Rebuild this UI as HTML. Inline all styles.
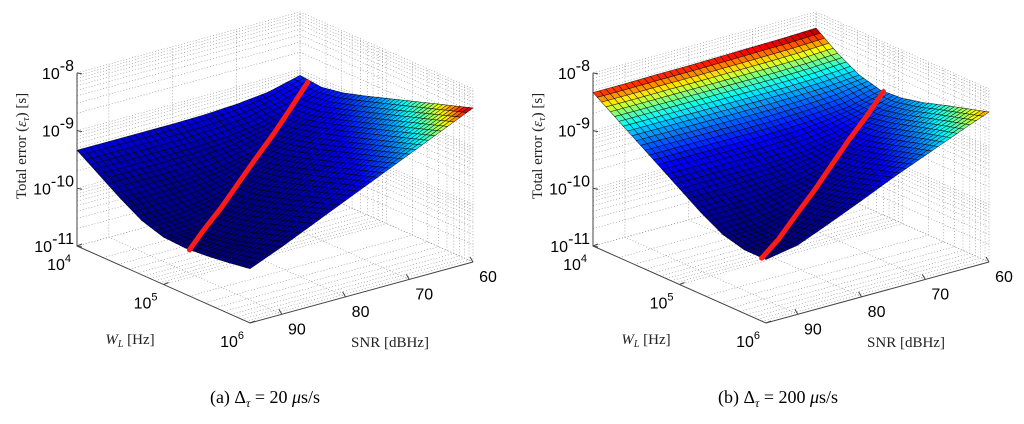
<!DOCTYPE html>
<html><head><meta charset="utf-8"><style>
body{margin:0;background:#fff;}
svg{display:block;}
.tk{font-family:"Liberation Sans",sans-serif;font-size:16px;fill:#000;}
.tt{font-family:"Liberation Serif",serif;font-size:15px;fill:#222;}
.cap{font-family:"Liberation Serif",serif;font-size:18px;fill:#000;}
</style></head><body>
<svg id="fig" width="1024" height="424" viewBox="0 0 1024 424" xmlns="http://www.w3.org/2000/svg">
<rect width="1024" height="424" fill="#fff"/>
<g id="plotA"></g>
<g id="plotB"></g>
<text class="cap" x="265" y="403" text-anchor="middle">(a)  Δ<tspan font-style="italic" font-size="12" dy="4">τ</tspan><tspan dy="-4"> = 20 </tspan><tspan font-style="italic">μ</tspan>s/s</text>
<text class="cap" x="778" y="403" text-anchor="middle">(b)  Δ<tspan font-style="italic" font-size="12" dy="4">τ</tspan><tspan dy="-4"> = 200 </tspan><tspan font-style="italic">μ</tspan>s/s</text>
</svg>
<script>
// ---- data ----
const logW = [4, 4.25, 4.5, 4.75, 5, 5.25, 5.5, 5.75, 6];
const snrVals = [60, 65, 70, 75, 80, 85, 90, 95];
const wTicks = [4, 5, 6];
const snrTicks = [60, 70, 80, 90];
const zTicks = [-11, -10, -9, -8];
// log10 total error, rows = SNR, cols = log10 W
const errA = [
 [-9.10,-9.14,-9.07,-8.955,-8.83,-8.705,-8.58,-8.455,-8.33],
 [-9.24,-9.34,-9.31,-9.20,-9.08,-8.955,-8.83,-8.705,-8.58],
 [-9.30,-9.48,-9.52,-9.44,-9.33,-9.205,-9.08,-8.955,-8.83],
 [-9.33,-9.55,-9.68,-9.67,-9.57,-9.45,-9.33,-9.205,-9.08],
 [-9.34,-9.58,-9.78,-9.86,-9.81,-9.70,-9.58,-9.455,-9.33],
 [-9.34,-9.59,-9.82,-9.99,-10.02,-9.94,-9.83,-9.705,-9.58],
 [-9.34,-9.59,-9.83,-10.05,-10.16,-10.15,-10.07,-9.95,-9.83],
 [-9.34,-9.59,-9.84,-10.06,-10.18,-10.2,-10.17,-10.12,-10.06]
];
const errB = [
 [-8.28,-8.55,-8.76,-8.86,-8.83,-8.74,-8.62,-8.51,-8.40],
 [-8.30,-8.58,-8.81,-8.99,-9.02,-8.94,-8.83,-8.72,-8.62],
 [-8.31,-8.59,-8.83,-9.05,-9.18,-9.17,-9.07,-8.96,-8.85],
 [-8.32,-8.59,-8.84,-9.08,-9.28,-9.36,-9.31,-9.20,-9.08],
 [-8.33,-8.59,-8.84,-9.09,-9.32,-9.49,-9.52,-9.44,-9.33],
 [-8.33,-8.59,-8.84,-9.09,-9.33,-9.55,-9.68,-9.67,-9.57],
 [-8.34,-8.59,-8.84,-9.09,-9.34,-9.58,-9.78,-9.84,-9.80],
 [-8.34,-8.59,-8.84,-9.09,-9.34,-9.59,-9.80,-9.90,-9.90]
];
const optSNR = [60, 65, 70, 75, 80, 85, 90, 95];
const optWA = [4.09, 4.26, 4.43, 4.59, 4.76, 4.93, 5.09, 5.3];
const optZA = [-9.16, -9.35, -9.53, -9.70, -9.86, -10.02, -10.16, -10.2];
const optWB = [4.78, 4.95, 5.11, 5.28, 5.45, 5.61, 5.78, 5.95];
const optZB = [-8.86, -9.03, -9.19, -9.36, -9.53, -9.69, -9.84, -9.91];

const NS = "http://www.w3.org/2000/svg";
function mk(tag, attrs, parent){const e=document.createElementNS(NS,tag);for(const k in attrs)e.setAttribute(k,attrs[k]);parent.appendChild(e);return e;}
function jet(c){c=Math.max(0,Math.min(1,c));const f=v=>Math.round(255*Math.max(0,Math.min(1,v)));
 return `rgb(${f(1.5-Math.abs(4*c-3))},${f(1.5-Math.abs(4*c-2))},${f(1.5-Math.abs(4*c-1))})`;}

function drawPlot(g, ox, Z, optW, optZ){
 const uOf=lw=>(lw-4)/2, sOf=snr=>(95-snr)/35;
 const P=(lw,snr,lz)=>{const u=uOf(lw),s=sOf(snr);return [ox+77+173*u+223*s, 246+77*u-61*s-57.7*(lz+11)];};
 const PP=(lw,snr,lz)=>P(lw,snr,lz).map(v=>v.toFixed(2)).join(',');
 const dot={stroke:"#888","stroke-width":0.6,"stroke-dasharray":"1,2",fill:"none"};
 const zLines=[];for(let k=-11;k<-8;k++)for(let m=1;m<10;m++)zLines.push(k+Math.log10(m));zLines.push(-8);
 const wLines=[];for(let k=4;k<6;k++)for(let m=1;m<10;m++)wLines.push(k+Math.log10(m));wLines.push(6);
 for(const z of zLines){
  let e=mk("polyline",Object.assign({points:PP(4,95,z)+" "+PP(4,60,z)+" "+PP(6,60,z)},dot),g);
  
  
 }
 for(const w of wLines){
  let e=mk("polyline",Object.assign({points:PP(w,95,-11)+" "+PP(w,60,-11)+" "+PP(w,60,-8)},dot),g);
  
  
 }
 for(const s of snrTicks){
  let e=mk("polyline",Object.assign({points:PP(6,s,-11)+" "+PP(4,s,-11)+" "+PP(4,s,-8)},dot),g);
  
  
 }
 const ax={stroke:"#444","stroke-width":1,fill:"none"};
 let a1=mk("polyline",Object.assign({points:PP(4,95,-8)+" "+PP(4,95,-11)+" "+PP(6,95,-11)+" "+PP(6,60,-11)},ax),g);
 
 
 for(const z of zTicks){const p=P(4,95,z);
  let t=mk("line",{x1:p[0],y1:p[1],x2:p[0]+5,y2:p[1]+1,stroke:"#444","stroke-width":1},g);
  
  
  let tx=mk("text",{class:"tk",x:p[0]-3,y:p[1]+6,"text-anchor":"end"},g);
  tx.innerHTML=`10<tspan font-size="11" dy="-8">${z}</tspan>`.replace('-','−');
  
  
 }
 for(const w of wTicks){const p=P(w,95,-11);
  let t=mk("line",{x1:p[0],y1:p[1],x2:p[0]+5,y2:p[1]-2,stroke:"#444","stroke-width":1},g);
  
  
  let tx=mk("text",{class:"tk",x:p[0]-6,y:p[1]+24,"text-anchor":"end"},g);
  tx.innerHTML=`10<tspan font-size="11" dy="-8">${w}</tspan>`;
  
  
 }
 for(const s of snrTicks){const p=P(6,s,-11);
  let t=mk("line",{x1:p[0],y1:p[1],x2:p[0]-3,y2:p[1]-5,stroke:"#444","stroke-width":1},g);
  
  
  let tx=mk("text",{class:"tk",x:p[0]+15,y:p[1]+20,"text-anchor":"middle"},g);
  tx.textContent=s;
  
  
 }
 let zt=mk("text",{class:"tt",x:0,y:0,"text-anchor":"middle",transform:`translate(${ox+26},146) rotate(-90)`},g);
 zt.innerHTML='Total error (<tspan font-style="italic">ε</tspan><tspan font-style="italic" font-size="10" dy="3">τ</tspan><tspan dy="-3">) [s]</tspan>';
 
 
 let wt=mk("text",{class:"tt",x:ox+130,y:344,"text-anchor":"middle"},g);
 wt.innerHTML='<tspan font-style="italic">W</tspan><tspan font-style="italic" font-size="10" dy="3">L</tspan><tspan dy="-3"> [Hz]</tspan>';
 
 
 let st=mk("text",{class:"tt",x:ox+390,y:347,"text-anchor":"middle"},g);
 st.textContent='SNR [dBHz]';
 
 
 let zmin=Infinity,zmax=-Infinity;
 for(const r of Z)for(const v of r){const l=Math.pow(10,v);zmin=Math.min(zmin,l);zmax=Math.max(zmax,l);}
 const N=5, quads=[];
 const val=(j,i,a,b)=>{
  const z00=Z[j][i],z01=Z[j][i+1],z10=Z[j+1][i],z11=Z[j+1][i+1];
  return z00*(1-a)*(1-b)+z01*(1-a)*b+z10*a*(1-b)+z11*a*b;};
 const sg=mk("g",{},g);
 
 
 for(let j=0;j<snrVals.length-1;j++)for(let i=0;i<logW.length-1;i++)
  for(let a=0;a<N;a++)for(let b=0;b<N;b++){
   const pts=[[a,b],[a,b+1],[a+1,b+1],[a+1,b]].map(([aa,bb])=>{
    const A=aa/N,B=bb/N;
    const snr=snrVals[j]+(snrVals[j+1]-snrVals[j])*A, lw=logW[i]+(logW[i+1]-logW[i])*B;
    return [lw,snr,val(j,i,A,B)];});
   const cl=pts.reduce((s,p)=>s+Math.pow(10,p[2]),0)/4;
   const cw=(pts[0][0]+pts[2][0])/2, cs=(pts[0][1]+pts[2][1])/2;
   quads.push({d:uOf(cw)-sOf(cs),pts,c:(cl-zmin)/(zmax-zmin)});
  }
 quads.sort((p,q)=>p.d-q.d);
 for(const q of quads){
  const e=mk("polygon",{points:q.pts.map(p=>PP(p[0],p[1],p[2])).join(' '),fill:jet(q.c),stroke:"rgba(0,0,0,0.8)","stroke-width":0.55},sg);
  
  
 }
 const line=mk("polyline",{points:optSNR.map((s,k)=>PP(optW[k],s,optZ[k])).join(' '),fill:"none",stroke:"#ff1a1a","stroke-width":5,"stroke-linecap":"round"},g);
 
 
}
drawPlot(document.getElementById('plotA'),0,errA,optWA,optZA);
drawPlot(document.getElementById('plotB'),516,errB,optWB,optZB);
</script>
</body></html>
